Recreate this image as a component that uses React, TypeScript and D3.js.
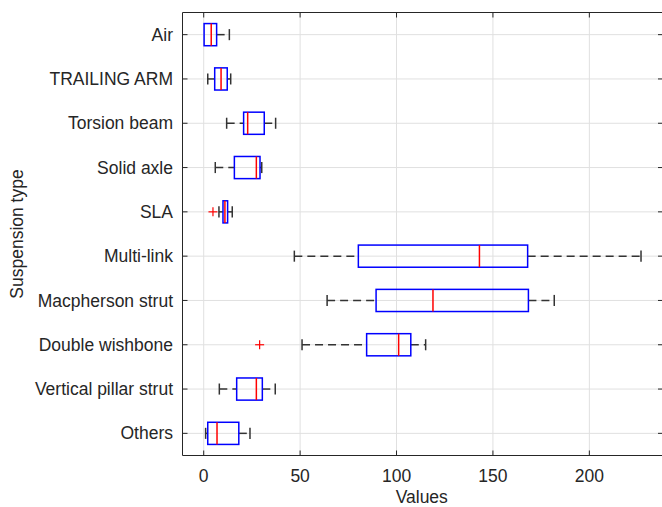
import React from "react";
import * as d3 from "d3";

const categories = [
  "Air",
  "TRAILING ARM",
  "Torsion beam",
  "Solid axle",
  "SLA",
  "Multi-link",
  "Macpherson strut",
  "Double wishbone",
  "Vertical pillar strut",
  "Others",
];
const whiskerLow = [0.2, 2.1, 11.9, 6.0, 7.9, 47.0, 64.0, 51.0, 8.1, 1.0];
const q1 = [0.2, 5.7, 20.7, 15.9, 10.0, 80.2, 89.4, 84.5, 17.1, 2.1];
const median = [3.9, 9.0, 22.8, 27.3, 11.0, 143.0, 118.9, 101.1, 27.3, 6.9];
const q3 = [6.7, 12.2, 31.4, 29.2, 12.4, 168.0, 168.4, 107.4, 30.4, 18.2];
const whiskerHigh = [13.3, 14.0, 37.3, 30.1, 14.8, 226.8, 181.8, 115.1, 37.1, 24.0];
const outliers: { cat: number; value: number }[] = [
  { cat: 4, value: 4.8 },
  { cat: 7, value: 29.0 },
];
const xTicks = [0, 50, 100, 150, 200];
const xDomain = [-11.0, 238.2];

const W = 662;
const H = 507;
const left = 182.5;
const right = 663;
const top = 12.5;
const bottom = 455.5;
const axisColor = "#262626";
const gridColor = "#e0e0e0";
const font = "'Liberation Sans', Arial, Helvetica, sans-serif";
const fs = 17.5;

export default function App() {
  const x = d3.scaleLinear().domain(xDomain).range([left, right]);
  const y = d3.scaleLinear().domain([0.5, 10.5]).range([top, bottom]);
  const boxHalf = 0.25;
  const capHalf = 0.125;
  const bh = y(1 + boxHalf) - y(1);
  const ch = y(1 + capHalf) - y(1);

  return (
    <svg
      width={W}
      height={H}
      style={{ position: "absolute", left: 0, top: 0, background: "#fff" }}
    >
      <rect x={0} y={0} width={W} height={H} fill="#fff" />
      {/* grid */}
      {xTicks.map((t) => (
        <line key={"gx" + t} x1={x(t)} x2={x(t)} y1={top} y2={bottom} stroke={gridColor} strokeWidth={1} />
      ))}
      {categories.map((c, i) => (
        <line key={"gy" + c} x1={left} x2={right} y1={y(i + 1)} y2={y(i + 1)} stroke={gridColor} strokeWidth={1} />
      ))}
      {/* boxes */}
      {categories.map((c, i) => {
        const cy = y(i + 1);
        return (
          <g key={"b" + c}>
            {whiskerLow[i] < q1[i] && (
              <>
                <line x1={x(whiskerLow[i])} x2={x(q1[i])} y1={cy} y2={cy} stroke="#333" strokeWidth={1.5} strokeDasharray="8,5" />
                <line x1={x(whiskerLow[i])} x2={x(whiskerLow[i])} y1={cy - ch} y2={cy + ch} stroke="#333" strokeWidth={1.5} />
              </>
            )}
            {whiskerHigh[i] > q3[i] && (
              <>
                <line x1={x(q3[i])} x2={x(whiskerHigh[i])} y1={cy} y2={cy} stroke="#333" strokeWidth={1.5} strokeDasharray="8,5" />
                <line x1={x(whiskerHigh[i])} x2={x(whiskerHigh[i])} y1={cy - ch} y2={cy + ch} stroke="#333" strokeWidth={1.5} />
              </>
            )}
            <rect
              x={x(q1[i])}
              y={cy - bh}
              width={x(q3[i]) - x(q1[i])}
              height={2 * bh}
              fill="none"
              stroke="#0000ff"
              strokeWidth={1.5}
            />
            <line x1={x(median[i])} x2={x(median[i])} y1={cy - bh} y2={cy + bh} stroke="#ff0000" strokeWidth={1.5} />
          </g>
        );
      })}
      {/* outliers */}
      {outliers.map((o, k) => {
        const ox = x(o.value);
        const oy = y(o.cat + 1);
        const s = 4.5;
        return (
          <g key={"o" + k} stroke="#ff0000" strokeWidth={1.2}>
            <line x1={ox - s} x2={ox + s} y1={oy} y2={oy} />
            <line x1={ox} x2={ox} y1={oy - s} y2={oy + s} />
          </g>
        );
      })}
      {/* axes frame */}
      <line x1={left} x2={left} y1={top} y2={bottom} stroke={axisColor} strokeWidth={1} />
      <line x1={left} x2={right} y1={bottom} y2={bottom} stroke={axisColor} strokeWidth={1} />
      <line x1={left} x2={right} y1={top} y2={top} stroke={axisColor} strokeWidth={1} />
      <line x1={right} x2={right} y1={top} y2={bottom} stroke={axisColor} strokeWidth={1} />
      {/* x ticks */}
      {xTicks.map((t) => (
        <g key={"xt" + t}>
          <line x1={x(t)} x2={x(t)} y1={bottom} y2={bottom - 5} stroke={axisColor} />
          <line x1={x(t)} x2={x(t)} y1={top} y2={top + 5} stroke={axisColor} />
          <text x={x(t)} y={482} textAnchor="middle" fontFamily={font} fontSize={fs} fill={axisColor}>
            {t}
          </text>
        </g>
      ))}
      {/* y ticks */}
      {categories.map((c, i) => (
        <g key={"yt" + c}>
          <line x1={left} x2={left + 5} y1={y(i + 1)} y2={y(i + 1)} stroke={axisColor} />
          <line x1={right} x2={right - 5} y1={y(i + 1)} y2={y(i + 1)} stroke={axisColor} />
          <text x={173} y={y(i + 1)} dy="0.35em" textAnchor="end" fontFamily={font} fontSize={fs} fill={axisColor}>
            {c}
          </text>
        </g>
      ))}
      <text x={(left + 661) / 2} y={503} textAnchor="middle" fontFamily={font} fontSize={fs} fill={axisColor}>
        Values
      </text>
      <text
        transform={`translate(23, ${(top + bottom) / 2}) rotate(-90)`}
        textAnchor="middle"
        fontFamily={font}
        fontSize={fs}
        fill={axisColor}
      >
        Suspension type
      </text>
    </svg>
  );
}
